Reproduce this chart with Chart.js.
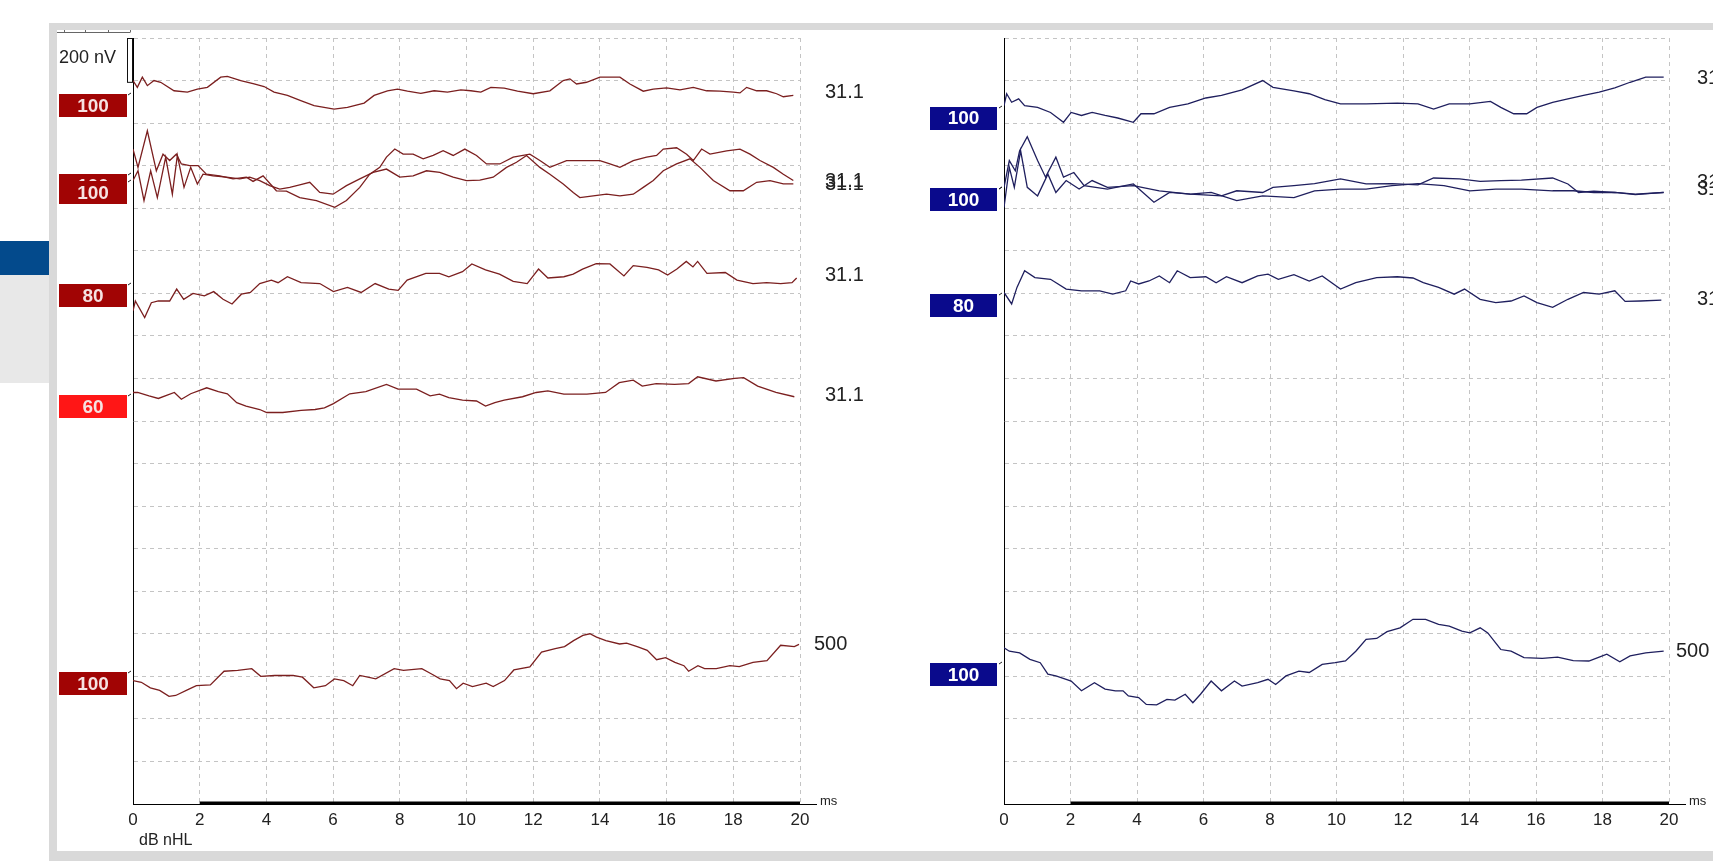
<!DOCTYPE html>
<html>
<head>
<meta charset="utf-8">
<script src="https://cdn.jsdelivr.net/npm/chart.js@4.4.0/dist/chart.umd.min.js"></script>
<style>
body { margin: 0; width: 1713px; height: 861px; background: #fff; overflow: hidden; position: relative; }
#frame { position: absolute; left: 49px; top: 23px; width: 1664px; height: 838px; background: #d9d9d9; }
#inner { position: absolute; left: 57px; top: 30px; width: 1656px; height: 821px; background: #fff; }
#blue { position: absolute; left: 0; top: 241px; width: 49px; height: 34px; background: #034a8c; }
#pale { position: absolute; left: 0; top: 275px; width: 49px; height: 108px; background: #e8e8e8; }
canvas { position: absolute; top: 30px; }
#leftChart { left: 57px; }
#rightChart { left: 857px; }
</style>
</head>
<body>
<div id="frame"></div>
<div id="inner"></div>
<div id="blue"></div>
<div id="pale"></div>
<canvas id="leftChart" width="880" height="819"></canvas>
<canvas id="rightChart" width="856" height="819"></canvas>
<script>
// traces: [ms, position in grid divisions counted from the top]
var leftA = [[0,1.0],[0.13,1.16],[0.28,0.92],[0.43,1.12],[0.63,1.0],[0.83,1.04],[1.23,1.24],[1.63,1.27],[1.93,1.2],[2.23,1.16],[2.63,0.92],[2.83,0.9],[3.23,1.0],[3.63,1.08],[3.93,1.14],[4.23,1.27],[4.63,1.35],[5.03,1.47],[5.43,1.59],[6.03,1.67],[6.43,1.63],[6.93,1.53],[7.23,1.35],[7.63,1.24],[7.93,1.2],[8.23,1.25],[8.63,1.3],[9.03,1.24],[9.43,1.27],[9.83,1.22],[10.13,1.24],[10.43,1.27],[10.73,1.16],[11.13,1.18],[11.53,1.25],[12.0,1.31],[12.5,1.24],[12.9,1.0],[13.1,0.96],[13.3,1.08],[13.6,1.04],[14.0,0.92],[14.6,0.92],[14.9,1.08],[15.3,1.25],[15.6,1.2],[16.0,1.17],[16.4,1.22],[16.8,1.16],[17.2,1.24],[17.6,1.25],[18.0,1.27],[18.2,1.29],[18.4,1.16],[18.7,1.24],[19.0,1.24],[19.3,1.31],[19.5,1.38],[19.8,1.35]]
var leftB = [[0,2.61],[0.15,3.04],[0.43,2.18],[0.7,3.12],[0.9,2.73],[1.1,2.88],[1.3,2.73],[1.45,2.96],[1.7,3.0],[1.95,3.0],[2.2,3.2],[2.6,3.24],[3.0,3.31],[3.4,3.27],[3.6,3.37],[3.9,3.24],[4.3,3.59],[4.6,3.6],[5.0,3.75],[5.5,3.82],[6.05,3.98],[6.4,3.82],[6.8,3.51],[7.1,3.2],[7.4,3.04],[7.6,2.8],[7.85,2.61],[8.1,2.73],[8.4,2.73],[8.7,2.84],[9.0,2.76],[9.3,2.65],[9.6,2.76],[9.95,2.61],[10.3,2.76],[10.6,2.96],[11.0,2.96],[11.4,2.8],[11.9,2.73],[12.2,2.88],[12.5,3.04],[13.0,2.88],[13.4,2.88],[14.0,2.88],[14.3,2.96],[14.6,3.04],[15.0,2.88],[15.4,2.8],[15.7,2.76],[15.9,2.61],[16.3,2.58],[16.6,2.73],[16.8,2.88],[17.05,2.61],[17.3,2.73],[17.8,2.65],[18.2,2.61],[18.5,2.73],[18.8,2.88],[19.2,3.04],[19.5,3.2],[19.8,3.35]]
var leftC = [[0,3.35],[0.15,3.12],[0.33,3.82],[0.53,3.12],[0.73,3.75],[0.98,2.8],[1.18,3.67],[1.33,2.76],[1.53,3.51],[1.73,3.04],[1.93,3.43],[2.1,3.2],[2.4,3.24],[2.8,3.27],[3.2,3.31],[3.5,3.27],[3.8,3.35],[4.1,3.47],[4.4,3.55],[4.7,3.51],[5.0,3.45],[5.3,3.39],[5.6,3.63],[6.0,3.67],[6.4,3.47],[6.8,3.31],[7.2,3.16],[7.6,3.08],[8.0,3.27],[8.4,3.24],[8.8,3.12],[9.2,3.16],[9.6,3.27],[10.0,3.35],[10.4,3.34],[10.8,3.27],[11.2,3.04],[11.5,2.92],[11.8,2.76],[12.2,3.04],[12.5,3.2],[12.9,3.43],[13.2,3.63],[13.4,3.75],[13.8,3.71],[14.2,3.67],[14.6,3.71],[15.0,3.67],[15.3,3.51],[15.6,3.35],[15.9,3.12],[16.3,2.96],[16.7,2.84],[17.0,3.04],[17.4,3.35],[17.9,3.59],[18.3,3.59],[18.7,3.39],[19.1,3.35],[19.5,3.43],[19.8,3.43]]
var leftD = [[0,6.41],[0.07,6.18],[0.35,6.57],[0.55,6.22],[0.76,6.18],[1.1,6.18],[1.31,5.9],[1.52,6.14],[1.8,6.0],[2.14,6.06],[2.42,5.96],[2.7,6.14],[2.97,6.25],[3.25,6.02],[3.52,5.98],[3.8,5.77],[4.15,5.69],[4.35,5.75],[4.63,5.61],[5.04,5.75],[5.6,5.77],[6.01,5.96],[6.43,5.86],[6.84,5.98],[7.26,5.77],[7.67,5.9],[7.95,5.93],[8.22,5.69],[8.78,5.53],[9.19,5.53],[9.47,5.61],[9.88,5.49],[10.16,5.31],[10.57,5.45],[10.99,5.55],[11.4,5.72],[11.82,5.77],[12.16,5.43],[12.44,5.64],[12.92,5.61],[13.2,5.55],[13.48,5.43],[13.89,5.3],[14.3,5.31],[14.72,5.59],[15.0,5.35],[15.41,5.39],[15.76,5.45],[16.03,5.57],[16.31,5.43],[16.59,5.25],[16.79,5.38],[16.93,5.25],[17.21,5.53],[17.76,5.51],[18.11,5.69],[18.59,5.77],[19.0,5.75],[19.42,5.77],[19.76,5.75],[19.9,5.64]]
var leftE = [[0,8.33],[0.14,8.33],[0.48,8.41],[0.76,8.47],[1.24,8.33],[1.45,8.49],[1.73,8.36],[2.21,8.22],[2.56,8.31],[2.83,8.36],[3.11,8.57],[3.39,8.65],[3.8,8.73],[4.01,8.8],[4.49,8.8],[5.04,8.75],[5.46,8.73],[5.74,8.69],[6.01,8.59],[6.5,8.36],[6.98,8.31],[7.6,8.14],[7.95,8.25],[8.5,8.25],[8.91,8.41],[9.19,8.37],[9.47,8.45],[9.88,8.51],[10.3,8.53],[10.57,8.65],[10.85,8.57],[11.13,8.51],[11.68,8.43],[12.09,8.33],[12.44,8.29],[12.92,8.37],[13.61,8.37],[14.17,8.33],[14.58,8.1],[15.0,8.04],[15.27,8.18],[15.69,8.12],[16.24,8.14],[16.66,8.12],[16.93,7.96],[17.48,8.06],[18.04,8.0],[18.31,7.98],[18.73,8.18],[19.28,8.33],[19.83,8.43]]
var leftF = [[0,15.1],[0.25,15.14],[0.52,15.27],[0.8,15.33],[1.08,15.47],[1.28,15.45],[1.63,15.32],[1.9,15.22],[2.32,15.2],[2.73,14.88],[3.14,14.86],[3.56,14.82],[3.83,15.0],[4.25,14.98],[4.8,14.98],[5.08,15.02],[5.42,15.27],[5.77,15.22],[6.04,15.06],[6.32,15.1],[6.59,15.22],[6.8,14.98],[7.28,15.06],[7.83,14.82],[8.11,14.86],[8.66,14.82],[8.94,14.94],[9.21,15.06],[9.49,15.1],[9.7,15.29],[9.9,15.16],[10.18,15.24],[10.59,15.16],[10.8,15.24],[11.14,15.1],[11.42,14.85],[11.9,14.78],[12.25,14.43],[12.66,14.35],[12.94,14.3],[13.21,14.16],[13.49,14.04],[13.7,14.0],[13.9,14.08],[14.18,14.16],[14.59,14.24],[14.8,14.22],[15.14,14.31],[15.42,14.39],[15.7,14.61],[15.97,14.56],[16.25,14.67],[16.52,14.75],[16.66,14.88],[16.94,14.75],[17.14,14.82],[17.49,14.82],[17.9,14.75],[18.18,14.77],[18.59,14.67],[19.01,14.63],[19.42,14.27],[19.83,14.3],[19.97,14.25]]

var rightA = [[0,1.59],[0.08,1.31],[0.23,1.51],[0.44,1.43],[0.62,1.59],[1.01,1.63],[1.4,1.75],[1.79,1.98],[2.02,1.75],[2.33,1.82],[2.65,1.75],[3.04,1.82],[3.42,1.88],[3.89,1.98],[4.12,1.78],[4.51,1.78],[4.98,1.63],[5.53,1.55],[6.07,1.41],[6.54,1.35],[7.16,1.22],[7.78,1.0],[8.09,1.16],[8.72,1.24],[9.18,1.31],[9.65,1.45],[10.12,1.55],[10.89,1.55],[11.83,1.53],[12.45,1.55],[12.92,1.67],[13.39,1.55],[14.01,1.55],[14.63,1.49],[14.94,1.63],[15.33,1.78],[15.72,1.78],[16.03,1.63],[16.5,1.51],[16.96,1.43],[17.43,1.35],[17.9,1.27],[18.37,1.17],[18.83,1.04],[19.3,0.92],[19.84,0.92]]
var rightB = [[0,3.51],[0.16,2.88],[0.34,3.12],[0.47,2.65],[0.7,2.32],[1.01,2.88],[1.25,3.27],[1.56,2.8],[1.79,3.27],[2.1,3.16],[2.41,3.47],[3.11,3.55],[3.89,3.43],[4.51,3.86],[4.98,3.63],[5.6,3.67],[6.23,3.63],[7.0,3.82],[7.78,3.71],[8.72,3.75],[9.34,3.59],[10.12,3.55],[10.89,3.55],[11.67,3.47],[12.45,3.42],[13.23,3.47],[14.01,3.59],[14.79,3.55],[15.56,3.55],[16.5,3.59],[17.12,3.59],[17.74,3.63],[18.37,3.63],[18.99,3.67],[19.84,3.63]]
var rightC = [[0,3.98],[0.16,3.04],[0.31,3.51],[0.5,2.65],[0.7,3.51],[1.01,3.71],[1.32,3.2],[1.56,3.63],[1.87,3.35],[2.26,3.55],[2.65,3.35],[3.11,3.51],[3.89,3.47],[4.67,3.59],[5.6,3.67],[6.54,3.71],[7.0,3.59],[7.78,3.63],[8.09,3.51],[8.72,3.47],[9.34,3.42],[10.12,3.31],[10.89,3.43],[11.67,3.42],[12.45,3.45],[12.92,3.29],[13.7,3.31],[14.32,3.37],[14.94,3.35],[15.56,3.34],[16.5,3.29],[16.96,3.43],[17.28,3.63],[17.74,3.6],[18.37,3.63],[18.99,3.68],[19.84,3.63]]
var rightD = [[0,5.98],[0.23,6.25],[0.39,5.86],[0.62,5.47],[0.93,5.63],[1.4,5.67],[1.87,5.9],[2.33,5.94],[2.88,5.94],[3.27,6.02],[3.66,5.94],[3.81,5.71],[4.05,5.78],[4.36,5.71],[4.67,5.59],[4.98,5.75],[5.21,5.47],[5.6,5.63],[6.07,5.61],[6.38,5.75],[6.69,5.61],[7.16,5.75],[7.63,5.59],[7.94,5.55],[8.25,5.67],[8.72,5.56],[9.18,5.71],[9.57,5.59],[10.12,5.9],[10.58,5.75],[11.21,5.63],[11.83,5.61],[12.3,5.64],[12.61,5.75],[13.07,5.86],[13.54,6.02],[13.85,5.9],[14.32,6.14],[14.79,6.22],[15.25,6.18],[15.64,6.06],[16.03,6.22],[16.5,6.33],[16.96,6.14],[17.43,5.98],[17.9,6.02],[18.37,5.94],[18.68,6.19],[19.14,6.18],[19.77,6.16]]
var rightF = [[0,14.33],[0.16,14.41],[0.47,14.45],[0.78,14.6],[1.09,14.68],[1.32,14.95],[1.56,14.99],[1.87,15.07],[2.02,15.11],[2.33,15.34],[2.72,15.15],[3.04,15.3],[3.35,15.34],[3.58,15.34],[3.74,15.46],[4.05,15.5],[4.28,15.66],[4.59,15.67],[4.9,15.54],[5.14,15.56],[5.45,15.42],[5.68,15.62],[5.91,15.42],[6.23,15.11],[6.54,15.34],[6.93,15.11],[7.16,15.23],[7.63,15.15],[7.94,15.07],[8.17,15.19],[8.48,14.99],[8.87,14.88],[9.18,14.91],[9.57,14.72],[9.96,14.68],[10.27,14.64],[10.58,14.41],[10.89,14.13],[11.21,14.11],[11.52,13.95],[11.91,13.86],[12.3,13.66],[12.68,13.66],[13.07,13.78],[13.39,13.82],[13.77,13.94],[14.01,13.98],[14.32,13.86],[14.55,13.98],[14.94,14.37],[15.25,14.41],[15.64,14.56],[16.19,14.58],[16.65,14.55],[17.12,14.63],[17.59,14.64],[17.9,14.55],[18.13,14.48],[18.52,14.66],[18.83,14.52],[19.3,14.45],[19.84,14.41]]

// stimulus level boxes and right-hand notes
var leftLevels = ['100', '100', '100', '80', '60', '100']
var leftLevelPos = [1.59, 3.47, 3.64, 6.05, 8.67, 15.18]
var leftNotes = ['31.1', '31.1', '31.1', '31.1', '31.1', '500']
var leftNotePos = [1.29, 3.36, 3.45, 5.59, 8.39, 14.26]
var rightLevels = ['100', '100', '100', '80', '100']
var rightLevelPos = [1.88, 3.79, 3.79, 6.29, 14.96]
var rightNotes = ['31.1', '31.1', '31.1', '31.1', '500']
var rightNotePos = [0.95, 3.4, 3.55, 6.14, 14.41]
var timeTicks = [0, 2, 4, 6, 8, 10, 12, 14, 16, 18, 20]

var fontFamily = '"Liberation Sans", Arial, sans-serif'
Chart.defaults.font.family = fontFamily

var leftBoxColors = ['#a10404', '#a10404', '#a10404', '#a10404', '#ff1616', '#a10404']
var rightBoxColors = ['#0a0a8c', '#0a0a8c', '#0a0a8c', '#0a0a8c', '#0a0a8c']

function overlay(panel) {
	return {
		id: 'overlay',
		afterDraw: function (chart) {
			var ctx = chart.ctx
			var xs = chart.scales.x
			var ys = chart.scales.y
			var area = chart.chartArea
			ctx.save()
			// heavy bar on the time axis from 2 ms
			ctx.strokeStyle = '#000'
			ctx.lineWidth = 3
			ctx.beginPath()
			ctx.moveTo(xs.getPixelForValue(2), area.bottom - 1)
			ctx.lineTo(xs.getPixelForValue(20), area.bottom - 1)
			ctx.stroke()
			ctx.lineWidth = 1
			ctx.beginPath()
			ctx.moveTo(area.right, area.bottom + 0.5)
			ctx.lineTo(area.right + 17, area.bottom + 0.5)
			ctx.stroke()
			ctx.fillStyle = '#222'
			ctx.font = '13px ' + fontFamily
			ctx.textBaseline = 'alphabetic'
			ctx.fillText('ms', area.right + 20, area.bottom + 1)

			ctx.font = 'bold 19px ' + fontFamily
			ctx.textAlign = 'center'
			ctx.textBaseline = 'middle'
			panel.levels.forEach(function (lv, i) {
				var y = ys.getPixelForValue(panel.levelPos[i])
				var x0 = area.left - panel.boxGap - panel.boxW
				var top = Math.round(y - 11.5)
				ctx.fillStyle = panel.boxColors[i]
				ctx.fillRect(x0, top, panel.boxW, 23)
				ctx.fillStyle = panel.boxText
				ctx.fillText(lv, x0 + panel.boxW / 2, y + 1)
				// baseline marker next to the axis
				ctx.strokeStyle = '#222'
				ctx.beginPath()
				ctx.moveTo(area.left - 5, top + 1)
				ctx.lineTo(area.left - 2, top - 1)
				ctx.stroke()
			})

			ctx.font = '20px ' + fontFamily
			ctx.textAlign = 'left'
			ctx.fillStyle = '#222'
			panel.notes.forEach(function (n, i) {
				var dx = n === '500' ? panel.note500X : panel.noteX
				ctx.fillText(n, area.right + dx, ys.getPixelForValue(panel.notePos[i]))
			})
			if (panel.extra) panel.extra(chart, ctx, xs, ys, area)
			ctx.restore()
		}
	}
}

function leftExtra(chart, ctx, xs, ys, area) {
	// amplitude calibration
	ctx.fillStyle = '#222'
	ctx.font = '18px ' + fontFamily
	ctx.textAlign = 'left'
	ctx.textBaseline = 'middle'
	ctx.fillText('200 nV', 2, 28)
	var top = ys.getPixelForValue(0)
	var bot = ys.getPixelForValue(1.03)
	ctx.fillStyle = '#fff'
	ctx.fillRect(area.left - 6, top, 6, bot - top)
	ctx.strokeStyle = '#111'
	ctx.lineWidth = 1
	ctx.strokeRect(area.left - 5.5, top + 0.5, 5, bot - top)
	// small ruler
	ctx.strokeStyle = '#666'
	ctx.beginPath()
	ctx.moveTo(0, 2.5)
	ctx.lineTo(area.left - 3, 2.5)
	;[7, 28, 51, area.left - 3].forEach(function (x) {
		ctx.moveTo(x + 0.5, 0)
		ctx.lineTo(x + 0.5, 2.5)
	})
	ctx.stroke()
	ctx.fillStyle = '#222'
	ctx.font = '16px ' + fontFamily
	ctx.fillText('dB nHL', area.left + 6, area.bottom + 37)
}

function makeChart(id, traces, color, panel) {
	return new Chart(document.getElementById(id), {
		type: 'line',
		data: {
			datasets: traces.map(function (t) {
				return {
					data: t.map(function (p) { return { x: p[0], y: p[1] } }),
					borderColor: color,
					borderWidth: 1.3,
					pointRadius: 0,
					tension: 0,
					fill: false,
				}
			})
		},
		options: {
			responsive: false,
			animation: false,
			layout: { padding: { left: 0, right: panel.padRight, top: 8, bottom: 0 } },
			plugins: { legend: { display: false }, tooltip: { enabled: false } },
			scales: {
				x: {
					type: 'linear',
					min: 0,
					max: 20,
					afterBuildTicks: function (s) { s.ticks = timeTicks.map(function (v) { return { value: v } }) },
					ticks: { color: '#222', font: { size: 17 }, padding: 6, maxRotation: 0, autoSkip: false },
					grid: { color: '#c4c4c4', drawTicks: false },
					border: { color: '#000', width: 1, dash: [4, 4] },
					afterFit: function (s) { s.height = 45 },
				},
				y: {
					type: 'linear',
					min: 0,
					max: 18,
					reverse: true,
					ticks: { display: false, stepSize: 1 },
					grid: { color: '#c4c4c4', drawTicks: false },
					border: { color: '#000', width: 1, dash: [4, 4] },
					afterFit: function (s) { s.width = panel.axisLeft },
				}
			}
		},
		plugins: [overlay(panel)]
	})
}

var leftChart = makeChart('leftChart', [leftA, leftB, leftC, leftD, leftE, leftF], '#7b1f1f', {
	padRight: 137, axisLeft: 76, boxGap: 6, boxW: 68,
	levels: leftLevels, levelPos: leftLevelPos, boxColors: leftBoxColors, boxText: '#f6e2e2',
	notes: leftNotes, notePos: leftNotePos, noteX: 25, note500X: 14,
	extra: leftExtra,
})

var rightChart = makeChart('rightChart', [rightA, rightB, rightC, rightD, rightF], '#1f1f5e', {
	padRight: 44, axisLeft: 147, boxGap: 7, boxW: 67,
	levels: rightLevels, levelPos: rightLevelPos, boxColors: rightBoxColors, boxText: '#ffffff',
	notes: rightNotes, notePos: rightNotePos, noteX: 28, note500X: 7,
})
</script>
</body>
</html>
